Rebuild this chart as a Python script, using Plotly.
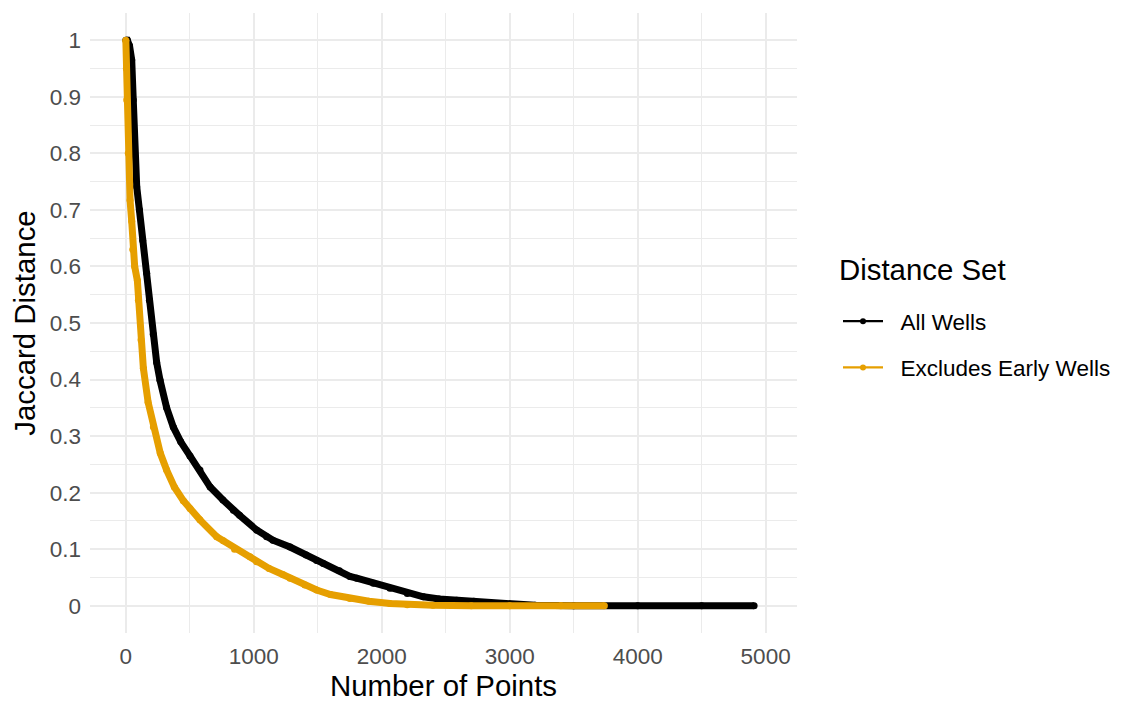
import plotly.graph_objects as go

# ---- data ----
all_x = [1, 13, 30, 47, 59, 67, 86, 107, 133, 164, 185, 215, 242, 268, 320, 372, 430, 502, 580,
         660, 760, 841, 890, 1023, 1101, 1150, 1284, 1410, 1492, 1544, 1670, 1752, 1805, 1935, 2065,
         2200, 2326, 2450, 2586, 2720, 2846, 3000, 3200, 3500, 4000, 4500, 4910]
all_y = [1.0, 1.0, 0.99, 0.965, 0.894, 0.806, 0.741, 0.70, 0.646, 0.588, 0.54, 0.48, 0.43, 0.399,
         0.35, 0.316, 0.29, 0.265, 0.24, 0.21, 0.187, 0.169, 0.16, 0.134, 0.122, 0.116, 0.104, 0.09,
         0.08, 0.075, 0.062, 0.052, 0.049, 0.04, 0.031, 0.022, 0.016, 0.012, 0.010, 0.008, 0.006,
         0.003, 0.001, 0.0, 0.0, 0.0, 0.0]

excl_x = [1, 5, 8, 20, 34, 47, 55, 70, 91, 99, 120, 138, 175, 216, 270, 320, 380, 450, 502, 580,
          711, 763, 850, 971, 1023, 1120, 1231, 1284, 1400, 1492, 1600, 1752, 1900, 2065, 2200, 2400,
          2700, 3000, 3400, 3740]
excl_y = [1.0, 0.95, 0.894, 0.80, 0.717, 0.68, 0.63, 0.60, 0.575, 0.54, 0.47, 0.42, 0.36, 0.316,
          0.27, 0.24, 0.21, 0.186, 0.172, 0.152, 0.122, 0.115, 0.10, 0.087, 0.078, 0.066, 0.055, 0.049,
          0.037, 0.028, 0.020, 0.013, 0.008, 0.004, 0.002, 0.001, 0.0, 0.0, 0.0, 0.0]

series_names = ["All Wells", "Excludes Early Wells"]
series_colors = ["#000000", "#E69F00"]
legend_title = "Distance Set"

y_ticks = [0, 0.1, 0.2, 0.3, 0.4, 0.5, 0.6, 0.7, 0.8, 0.9, 1]
y_labels = ["0", "0.1", "0.2", "0.3", "0.4", "0.5", "0.6", "0.7", "0.8", "0.9", "1"]
x_ticks = [0, 1000, 2000, 3000, 4000, 5000]
x_labels = ["0", "1000", "2000", "3000", "4000", "5000"]

FONT = "Liberation Sans, Arial, Helvetica, sans-serif"
GRID = "#EBEBEB"
TICK_SIZE = 22.5
TITLE_SIZE = 29.4
W, H = 1114, 694   # page body has an 8px margin

fig = go.Figure()
for xs, ys, name, col in [(all_x, all_y, series_names[0], series_colors[0]),
                          (excl_x, excl_y, series_names[1], series_colors[1])]:
    fig.add_trace(go.Scatter(x=xs, y=ys, mode="lines+markers", name=name,
                             line=dict(color=col, width=7),
                             marker=dict(color=col, size=7),
                             showlegend=False, hoverinfo="skip"))
# legend keys (thin line + dot like ggplot)
for i, (name, col) in enumerate(zip(series_names, series_colors)):
    fig.add_trace(go.Scatter(x=[None], y=[None], mode="lines+markers",
                             name="\u00a0\u00a0" + name,
                             line=dict(color=col, width=2.2),
                             marker=dict(color=col, size=6),
                             legendgroup=f"g{i}", showlegend=True))

fig.update_layout(
    width=W, height=H,
    paper_bgcolor="white", plot_bgcolor="white",
    margin=dict(l=82, r=325, t=5, b=69),
    font=dict(family=FONT, color="#000000"),
    legend=dict(
        font=dict(size=22.5, color="#000000"),
        xref="container", yref="container",
        x=830 / W, y=1 - 292 / H, xanchor="left", yanchor="top",
        tracegroupgap=14, itemwidth=40,
        bgcolor="rgba(0,0,0,0)",
    ),
    annotations=[dict(text=legend_title, xref="paper", yref="paper",
                      x=(837 - 90) / 707, y=(633 - 269) / 620,
                      xanchor="left", yanchor="middle", showarrow=False,
                      font=dict(size=TITLE_SIZE, color="#000000"))],
)
fig.update_xaxes(
    range=[-279, 5245], tickvals=x_ticks, ticktext=x_labels, automargin=False,
    showgrid=True, gridcolor=GRID, gridwidth=1.6, zeroline=False,
    showline=False, ticks="", tickfont=dict(size=TICK_SIZE, color="#4D4D4D"),
    ticklabelstandoff=7,
    minor=dict(tick0=0, dtick=500, showgrid=True, gridcolor=GRID, gridwidth=0.8),
    title=dict(text="Number of Points", font=dict(size=TITLE_SIZE, color="#000000"), standoff=10),
)
fig.update_yaxes(
    range=[-0.048, 1.048], tickvals=y_ticks, ticktext=y_labels, automargin=False,
    showgrid=True, gridcolor=GRID, gridwidth=1.6, zeroline=False,
    showline=False, ticks="", tickfont=dict(size=TICK_SIZE, color="#4D4D4D"),
    ticklabelstandoff=8,
    minor=dict(tick0=0, dtick=0.05, showgrid=True, gridcolor=GRID, gridwidth=0.8),
    title=dict(text="Jaccard Distance", font=dict(size=TITLE_SIZE, color="#000000"), standoff=8),
)

fig.write_html("out.html")
